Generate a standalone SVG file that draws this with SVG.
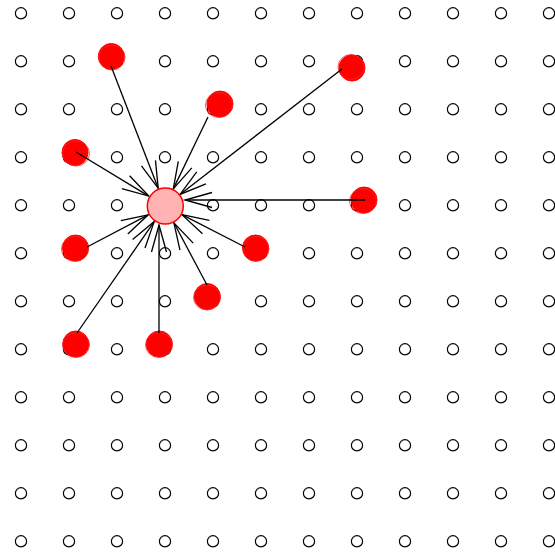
<svg xmlns="http://www.w3.org/2000/svg" width="555" height="552" viewBox="0 0 555 552">
<defs>
<style>
.g{fill:none;stroke:#000;stroke-width:1.2}
.e{stroke:#000;stroke-width:1.3;fill:none}
.b{fill:#ff0000;stroke:#ff0000;stroke-width:1}
.bo{fill:none;stroke:#ff2020;stroke-width:0.8}
</style>
<marker id="ah" markerUnits="userSpaceOnUse" orient="auto" markerWidth="60" markerHeight="30" refX="0" refY="0" viewBox="-30 -15 60 30" overflow="visible">
<path d="M-27,-7.5 L0,0 L-27,7.5" fill="none" stroke="#000" stroke-width="1.3"/>
</marker>
<g id="row">
<circle cx="21" cy="13.3" r="5.6" class="g"/><circle cx="69" cy="13.3" r="5.6" class="g"/><circle cx="117" cy="13.3" r="5.6" class="g"/><circle cx="165" cy="13.3" r="5.6" class="g"/><circle cx="213" cy="13.3" r="5.6" class="g"/><circle cx="261" cy="13.3" r="5.6" class="g"/><circle cx="309" cy="13.3" r="5.6" class="g"/><circle cx="357" cy="13.3" r="5.6" class="g"/><circle cx="405" cy="13.3" r="5.6" class="g"/><circle cx="453" cy="13.3" r="5.6" class="g"/><circle cx="501" cy="13.3" r="5.6" class="g"/><circle cx="549" cy="13.3" r="5.6" class="g"/>
</g>
</defs>
<rect width="555" height="552" fill="#fff"/>
<g id="grid-points">
<use href="#row"/>
<use href="#row" y="48"/>
<use href="#row" y="96"/>
<use href="#row" y="144"/>
<use href="#row" y="192"/>
<use href="#row" y="240"/>
<use href="#row" y="288"/>
<use href="#row" y="336"/>
<use href="#row" y="384"/>
<use href="#row" y="432"/>
<use href="#row" y="480"/>
<use href="#row" y="528"/>
</g>
<g id="blobs">
<g id="b1"><circle cx="111.3" cy="56.5" r="13" class="b"/><ellipse cx="112" cy="57.5" rx="13" ry="12.5" class="bo"/></g>
<g id="b2"><circle cx="220" cy="104" r="13" class="b"/><ellipse cx="219" cy="105" rx="13.5" ry="12.5" class="bo"/></g>
<g id="b3"><circle cx="352" cy="68" r="13" class="b"/><ellipse cx="351" cy="67" rx="13" ry="12.5" class="bo"/></g>
<g id="b4"><circle cx="364" cy="200" r="13" class="b"/><ellipse cx="363" cy="201" rx="13.5" ry="12.5" class="bo"/></g>
<g id="b5"><circle cx="75" cy="152.5" r="13" class="b"/><ellipse cx="76" cy="153.5" rx="13.5" ry="12.5" class="bo"/></g>
<g id="b6"><circle cx="75.5" cy="248" r="13" class="b"/><ellipse cx="75" cy="249" rx="13.5" ry="12.5" class="bo"/></g>
<g id="b7"><circle cx="255.5" cy="248" r="13" class="b"/><ellipse cx="256" cy="249" rx="13" ry="12.5" class="bo"/></g>
<g id="b8"><circle cx="207.3" cy="296.5" r="13" class="b"/><ellipse cx="207" cy="297.5" rx="13.5" ry="12.5" class="bo"/></g>
<g id="b9"><circle cx="75.8" cy="344" r="13" class="b"/><ellipse cx="76" cy="345" rx="13.5" ry="12.5" class="bo"/></g>
<g id="b10"><circle cx="159.3" cy="344" r="13" class="b"/><ellipse cx="159" cy="345" rx="13.5" ry="12.5" class="bo"/></g>
</g>
<g id="connectors">
<line x1="111" y1="66" x2="158.2" y2="188.3" class="e" marker-end="url(#ah)"/>
<line x1="208" y1="117" x2="173.3" y2="188.9" class="e" marker-end="url(#ah)"/>
<line x1="342" y1="69" x2="180" y2="194.4" class="e" marker-end="url(#ah)"/>
<line x1="365" y1="200" x2="185" y2="200" class="e" marker-end="url(#ah)"/>
<line x1="76" y1="152" x2="148.8" y2="196.1" class="e" marker-end="url(#ah)"/>
<line x1="87" y1="247" x2="148.2" y2="214.8" class="e" marker-end="url(#ah)"/>
<line x1="245" y1="247" x2="181.9" y2="214.7" class="e" marker-end="url(#ah)"/>
<line x1="207" y1="285" x2="173.9" y2="222.8" class="e" marker-end="url(#ah)"/>
<line x1="77" y1="333" x2="154.2" y2="221.6" class="e" marker-end="url(#ah)"/>
<line x1="159" y1="333" x2="159" y2="225" class="e" marker-end="url(#ah)"/>
</g>
<g id="center">
<circle cx="165.3" cy="206" r="18" fill="#ffb3b3" stroke="#ff0000" stroke-width="1.5"/>
</g>
</svg>
